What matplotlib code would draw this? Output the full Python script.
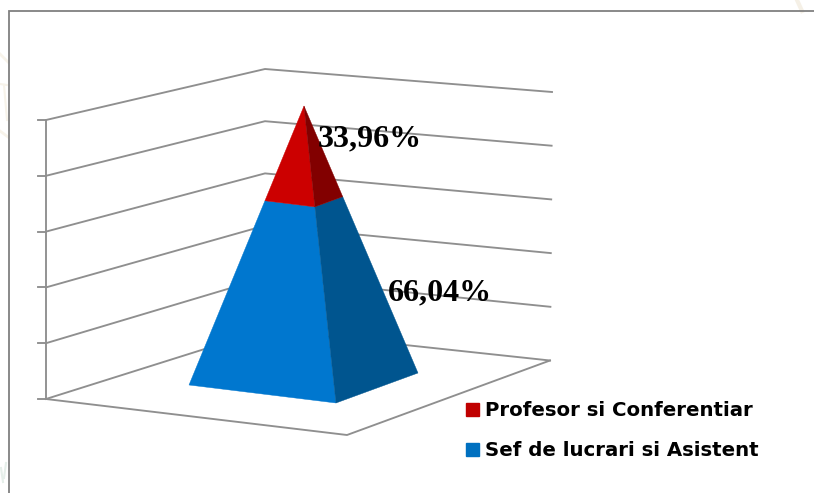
import numpy as np
import matplotlib
matplotlib.use("Agg")
import matplotlib.pyplot as plt
from matplotlib.patches import Patch, Polygon

# --- data ---
categories = ["Sef de lucrari si Asistent", "Profesor si Conferentiar"]
shares = [66.04, 33.96]
share_labels = ["66,04%", "33,96%"]
grid_levels = [0, 20, 40, 60, 80, 100]

# --- styles ---
face_left = ["#0077CF", "#CC0000"]
face_right = ["#00558F", "#820000"]
legend_colors = ["#0070C0", "#C00000"]
line_color = "#8F8F8F"

# --- projection anchors (pixel space of the 3D scene) ---
apex = np.array([304.0, 106.0])
base_left = np.array([189.0, 385.0])
base_front = np.array([336.0, 403.0])
base_right = np.array([418.0, 373.0])
wall_front = (np.array([46.0, 399.0]), np.array([46.0, 120.0]))
wall_back = (np.array([265.0, 330.0]), np.array([265.0, 69.0]))
wall_right = (np.array([550.0, 360.5]), np.array([552.0, 92.0]))
floor_near = np.array([347.0, 435.0])
scale_max = grid_levels[-1]


def lerp(pair, level):
    return pair[0] + (pair[1] - pair[0]) * level / scale_max


def section(corner, level):
    return corner + (apex - corner) * level / scale_max


fig = plt.figure(figsize=(8.14, 4.93), dpi=100, facecolor="white")
ax = fig.add_axes([0, 0, 1, 1])
ax.set_xlim(0, 814)
ax.set_ylim(493, 0)
ax.axis("off")

# faint traces of the slide background around the chart
for xs, ys, col, w in [
    ([0, 8], [54, 62], "#F7F3EA", 2.0),
    ([0, 8], [131, 137], "#F7F3EA", 2.0),
    ([0, 7], [84, 85], "#F7F3EA", 1.5),
    ([4, 7], [85, 120], "#F7F3EA", 1.5),
    ([797, 802], [0, 11], "#F5F0E6", 3.0),
    ([1, 3], [468, 482], "#E6EFEA", 1.5),
    ([6, 4], [463, 478], "#E6EFEA", 1.5),
]:
    ax.plot(xs, ys, color=col, lw=w, zorder=0)

# outer chart frame
ax.plot([9, 9, 814], [493, 11, 11], color="#808080", lw=1.3, zorder=1, solid_joinstyle="miter")

# walls, gridlines and ticks
lw = 1.35
for lev in grid_levels:
    a, b, c = lerp(wall_front, lev), lerp(wall_back, lev), lerp(wall_right, lev)
    ax.plot([a[0], b[0], c[0]], [a[1], b[1], c[1]], color=line_color, lw=lw, zorder=2)
    ax.plot([a[0] - 8, a[0]], [a[1], a[1]], color=line_color, lw=lw, zorder=2)
ax.plot([wall_front[0][0]] * 2, [wall_front[0][1], wall_front[1][1]], color=line_color, lw=lw, zorder=2)
# floor
ax.plot([wall_front[0][0], floor_near[0], wall_right[0][0]],
        [wall_front[0][1], floor_near[1], wall_right[0][1]], color=line_color, lw=lw, zorder=2)

# pyramid, stacked from the shares
cum = np.concatenate([[0], np.cumsum(shares)])
for i in range(len(shares)):
    lo, hi = cum[i], cum[i + 1]
    ax.add_patch(Polygon([section(base_left, lo), section(base_front, lo),
                          section(base_front, hi), section(base_left, hi)],
                         closed=True, fc=face_left[i], ec=face_left[i], lw=0.3, zorder=3))
    ax.add_patch(Polygon([section(base_front, lo), section(base_right, lo),
                          section(base_right, hi), section(base_front, hi)],
                         closed=True, fc=face_right[i], ec=face_right[i], lw=0.3, zorder=3))

# data labels
label_pos = [(388, 300), (318, 146)]
for txt, (x, y) in zip(share_labels, label_pos):
    ax.text(x, y, txt, family="Liberation Serif", weight="bold", fontsize=23,
            color="black", ha="left", va="baseline", zorder=5)

# legend
handles = [Patch(color=legend_colors[1], label=categories[1]),
           Patch(color=legend_colors[0], label=categories[0])]
ax.legend(handles=handles, loc="upper left", bbox_to_anchor=(466 / 814, 1 - 401.4 / 493),
          frameon=False, handlelength=0.66, handleheight=0.66, handletextpad=0.3,
          labelspacing=1.05, borderpad=0, borderaxespad=0,
          prop={"family": "DejaVu Sans", "weight": "bold", "size": 14.2})

fig.savefig("out.png", dpi=100)
